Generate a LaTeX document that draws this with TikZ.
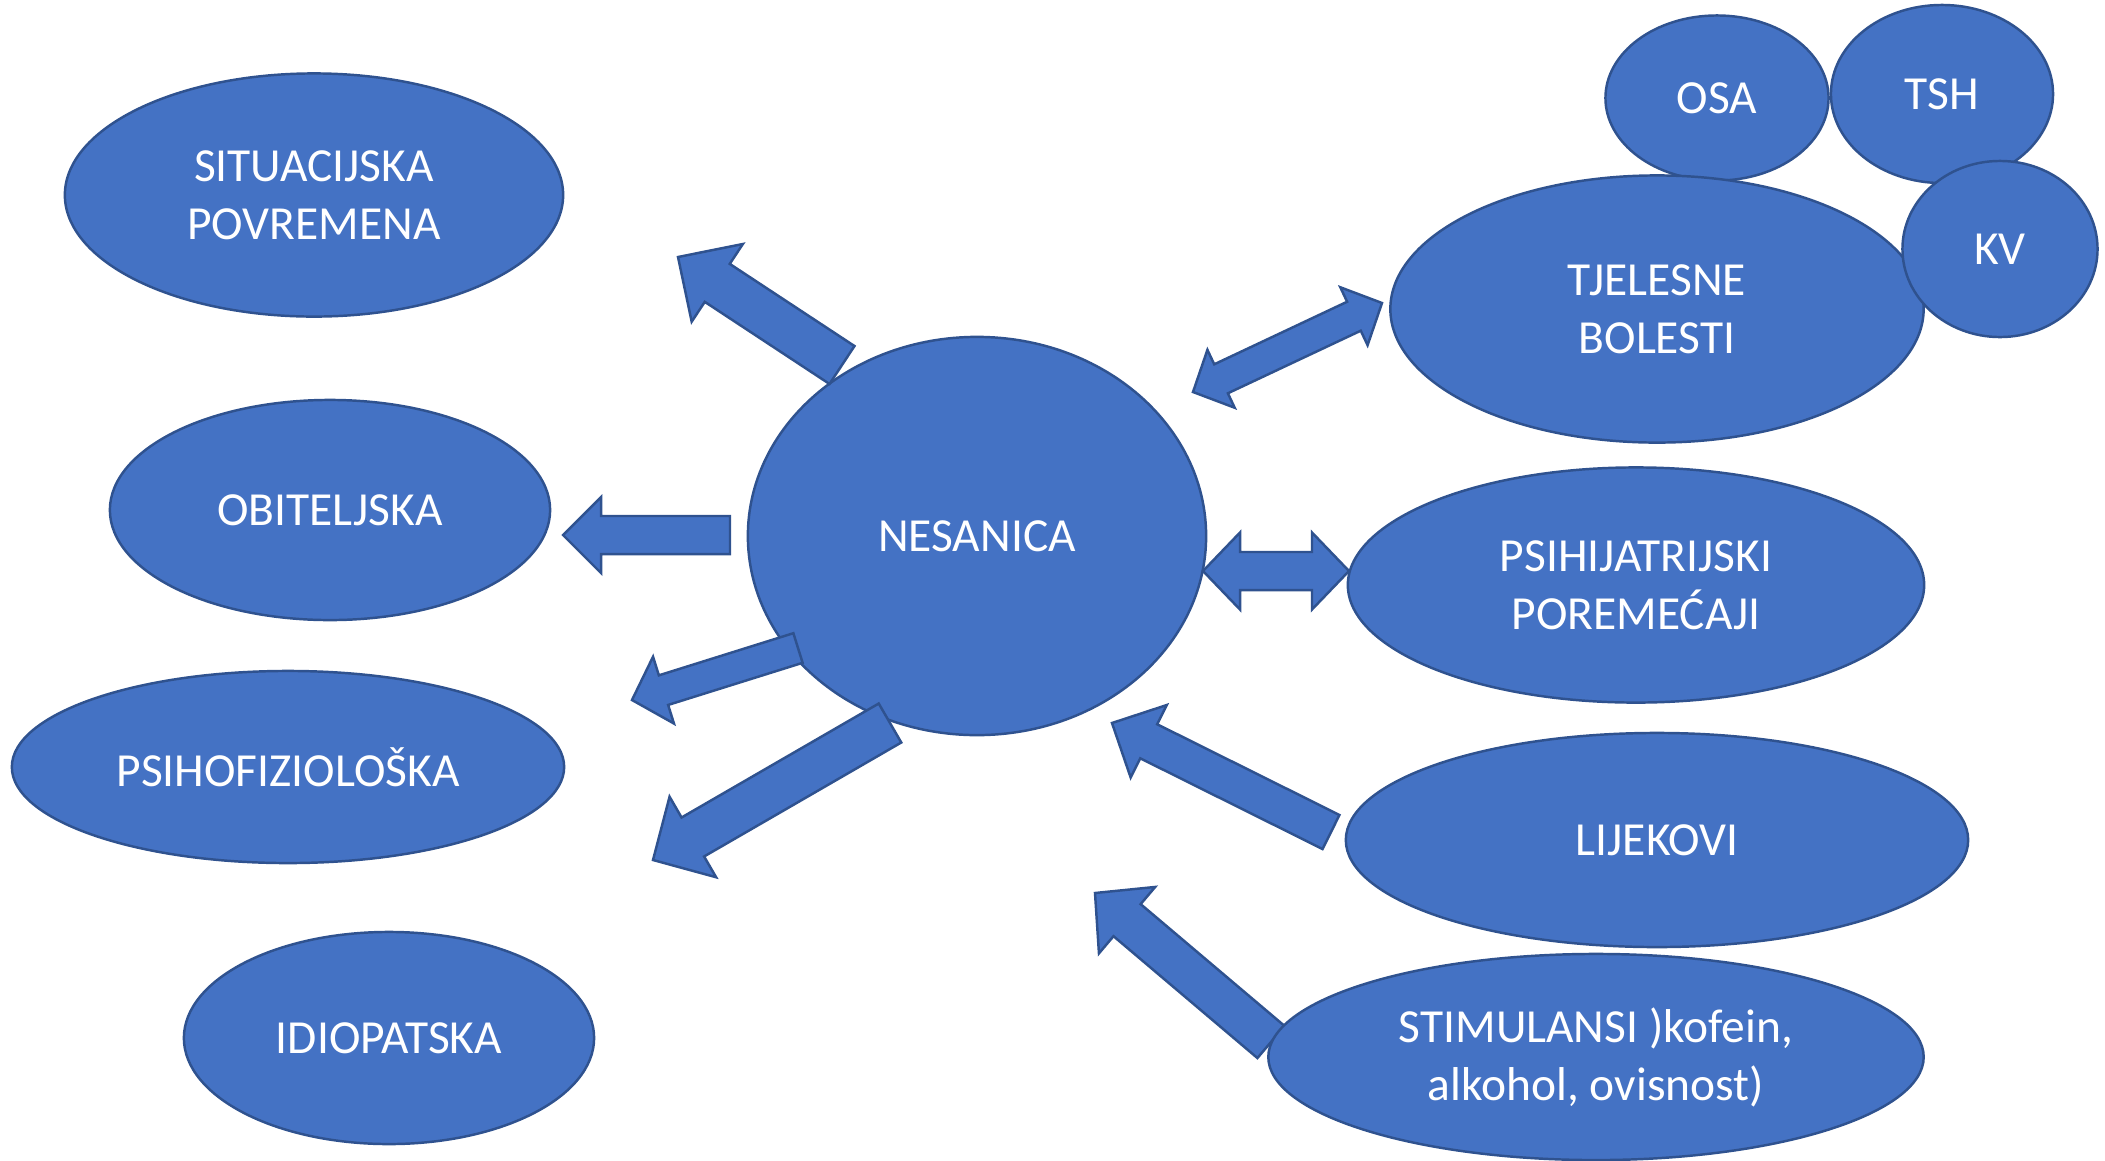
\documentclass[tikz,border=0pt]{standalone}
\usepackage{fontspec}
\setmainfont{Carlito}
\usetikzlibrary{shapes.geometric,calc}

\definecolor{nodeblue}{HTML}{4472C4}
\definecolor{edgeblue}{HTML}{2F528F}

% block arrow: tail, tip, shaft half width, head half width, head length
\newcommand{\blockarrow}[5]{%
  \coordinate (hb) at ($(#2)!#5!(#1)$);
  \draw[blockarr] ($(#1)!#3!90:(#2)$) -- ($(hb)!#3!90:(#2)$) -- ($(hb)!#4!90:(#2)$)
    -- (#2) -- ($(hb)!#4!-90:(#2)$) -- ($(hb)!#3!-90:(#2)$) -- ($(#1)!#3!-90:(#2)$) -- cycle;}
% same, with a head at both ends
\newcommand{\dblarrow}[5]{%
  \coordinate (ha) at ($(#1)!#5!(#2)$);
  \coordinate (hb) at ($(#2)!#5!(#1)$);
  \draw[blockarr] (#1) -- ($(ha)!#4!90:(#2)$) -- ($(ha)!#3!90:(#2)$) -- ($(hb)!#3!90:(#2)$)
    -- ($(hb)!#4!90:(#2)$) -- (#2) -- ($(hb)!#4!-90:(#2)$) -- ($(hb)!#3!-90:(#2)$)
    -- ($(ha)!#3!-90:(#2)$) -- ($(ha)!#4!-90:(#2)$) -- cycle;}

\begin{document}
\begin{tikzpicture}[x=0.01cm, y=-0.01cm,
  blob/.style = {ellipse, draw=edgeblue, fill=nodeblue, line width=0.7pt,
    text=white, inner sep=0pt, align=center,
    font=\fontsize{13.5}{16.5}\selectfont},
  blockarr/.style = {draw=edgeblue, fill=nodeblue, line width=0.7pt}]
\useasboundingbox (0,0) rectangle (2105,1160);

  \node[blob, minimum width=4.98cm, minimum height=2.43cm] (situ) at (314,195) {SITUACIJSKA\\POVREMENA};
  \node[blob, minimum width=4.40cm, minimum height=2.20cm] (obit) at (330,510) {OBITELJSKA};
  \node[blob, minimum width=5.52cm, minimum height=1.92cm] (psihof) at (288,767) {PSIHOFIZIOLOŠKA};
  \node[blob, minimum width=4.10cm, minimum height=2.12cm] (idio) at (389,1038) {IDIOPATSKA};
  \node[blob, minimum width=4.58cm, minimum height=3.98cm] (nes) at (977,536) {NESANICA};
  \node[blob, minimum width=2.23cm, minimum height=1.65cm] (osa) at (1717,98) {OSA};
  \node[blob, minimum width=2.22cm, minimum height=1.78cm] (tsh) at (1942,94) {TSH};
  \node[blob, minimum width=5.33cm, minimum height=2.67cm] (tjel) at (1657,309) {TJELESNE\\BOLESTI};
  \node[blob, minimum width=1.95cm, minimum height=1.76cm] (kv) at (2000,249) {KV};
  \node[blob, minimum width=5.76cm, minimum height=2.35cm] (psihij) at (1636,585) {PSIHIJATRIJSKI\\POREMEĆAJI};
  \node[blob, minimum width=6.22cm, minimum height=2.14cm] (lijek) at (1657,840) {LIJEKOVI};

  % arrow ends
  \coordinate (situT) at (842,365);   \coordinate (situH) at (678,257);
  \coordinate (obitT) at (730,535);   \coordinate (obitH) at (563,535);
  \coordinate (psihofT) at (798,648); \coordinate (psihofH) at (632,700);
  \coordinate (idioT) at (890,723);   \coordinate (idioH) at (653,860);
  \coordinate (tjelA) at (1193,392);  \coordinate (tjelB) at (1382,303);
  \coordinate (psihijA) at (1203,571); \coordinate (psihijB) at (1349,571);
  \coordinate (lijekT) at (1331,832); \coordinate (lijekH) at (1112,723);
  \coordinate (stimT) at (1271,1042); \coordinate (stimH) at (1095,893);

  \blockarrow{situT}{situH}{2.27mm}{4.65mm}{4.7mm}
  \blockarrow{obitT}{obitH}{1.9mm}{3.8mm}{3.8mm}
  \blockarrow{psihofT}{psihofH}{1.55mm}{3.5mm}{3.3mm}
  \blockarrow{idioT}{idioH}{2.25mm}{4.65mm}{4.6mm}
  \dblarrow{tjelA}{tjelB}{1.6mm}{3.2mm}{3.1mm}
  \dblarrow{psihijA}{psihijB}{1.9mm}{3.85mm}{3.7mm}
  \blockarrow{lijekT}{lijekH}{1.9mm}{4.05mm}{4.1mm}
  \blockarrow{stimT}{stimH}{2.1mm}{4.35mm}{4.2mm}

  \node[blob, minimum width=6.55cm, minimum height=2.06cm] (stim) at (1596,1057) {STIMULANSI )kofein,\\alkohol, ovisnost)};
\end{tikzpicture}
\end{document}
